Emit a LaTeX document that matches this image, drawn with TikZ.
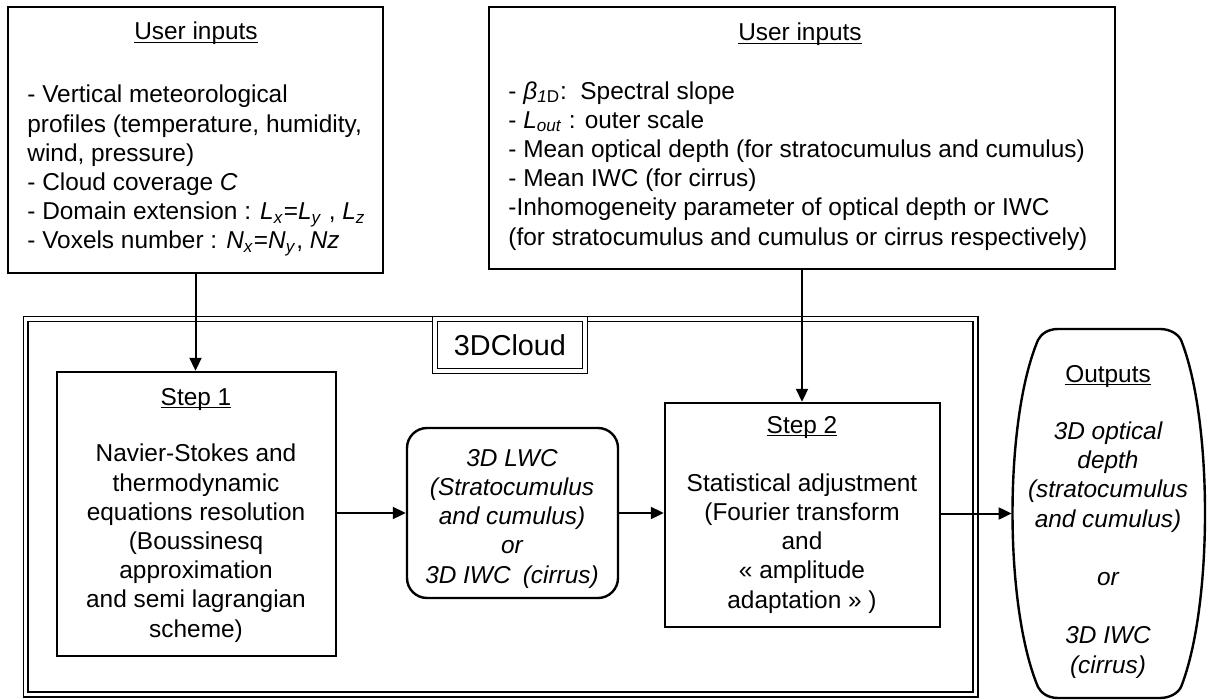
\documentclass[tikz,border=0pt]{standalone}
\usepackage{fontspec}
\setmainfont{Liberation Sans}
\usetikzlibrary{arrows.meta}
\newcommand{\myul}[1]{\setbox0\hbox{#1}\rlap{\rule[-1.7pt]{\wd0}{0.8pt}}\box0}
\newcommand{\ii}[1]{\textit{#1}}
\tikzset{
  box/.style={draw, line width=1.2pt, inner sep=0pt},
  dbl/.style={draw, line width=0.8pt, double, double distance=1.6pt, inner sep=0pt},
  arr/.style={line width=1pt, -{Triangle[length=6.5pt,width=6pt]}},
  txt/.style={inner sep=0pt, font=\fontsize{12.2}{14.6}\selectfont},
  itxt/.style={txt, font=\fontsize{12.2}{14.6}\selectfont\itshape}
}
\begin{document}
\begin{tikzpicture}[x=0.5pt,y=-0.5pt]
\useasboundingbox (0,0) rectangle (1208,700);

% container
\node[dbl, minimum width=474.9pt, minimum height=187.75pt] (outer) at (500.6,506.75) {};
\node[dbl, fill=white, minimum width=75pt, minimum height=26pt, font=\fontsize{14.4}{17}\selectfont] (label) at (510,345) {3DCloud};

% boxes
\node[box, minimum width=187.5pt, minimum height=133pt] (in1) at (195.5,140) {};
\node[box, minimum width=313pt, minimum height=131pt] (in2) at (802,138) {};
\node[box, minimum width=139.5pt, minimum height=142pt] (step1) at (196.5,514) {};
\node[box, rounded corners=10pt, minimum width=105.5pt, minimum height=85pt] (lwc) at (512.5,513) {};
\node[box, minimum width=137.5pt, minimum height=112pt] (step2) at (802.5,515) {};
\node[inner sep=0pt, minimum width=96.5pt, minimum height=184.5pt] (outputs) at (1108.5,513.5) {};
\draw[line width=1.2pt] (1058,329) -- (1160,329)
  .. controls (1170,329) and (1178,334) .. (1181,340)
  .. controls (1213,420) and (1213,606) .. (1181,687)
  .. controls (1178,693) and (1170,698) .. (1160,698)
  -- (1058,698)
  .. controls (1048,698) and (1041,693) .. (1038,687)
  .. controls (1004,606) and (1004,420) .. (1038,340)
  .. controls (1041,334) and (1048,329) .. (1058,329) -- cycle;

% texts (multi-line nodes: base anchor = last line's baseline)
\node[txt, anchor=base] (t1) at (196,40) {\myul{User inputs}};
\node[txt, anchor=base west, align=left] (b1) at (27,249) {- Vertical meteorological\\
profiles (temperature, humidity,\\
wind, pressure)\\
- Cloud coverage \ii{C}\\
- Domain extension : \ii{L}\textsubscript{\ii{x}}=\ii{L}\textsubscript{\ii{y}} , \ii{L}\textsubscript{\ii{z}}\\
- Voxels number : \ii{N}\textsubscript{\ii{x}}=\ii{N}\textsubscript{\ii{y}},\ \ii{Nz}};

\node[txt, anchor=base] (t2) at (800,41) {\myul{User inputs}};
\node[txt, anchor=base west, align=left] (b2) at (508,245) {- \ii{β}\textsubscript{\ii{1}D}:\ \ Spectral slope\\
- \ii{L}\textsubscript{\ii{out}} : outer scale\\
- Mean optical depth (for stratocumulus and cumulus)\\
- Mean IWC (for cirrus)\\
-Inhomogeneity parameter of optical depth or IWC\\
(for stratocumulus and cumulus or cirrus respectively)};

\node[txt, anchor=base] (t3) at (196,405) {\myul{Step 1}};
\node[txt, anchor=base, align=center] (b3) at (196,637) {Navier-Stokes and\\
thermodynamic\\
equations resolution\\
(Boussinesq\\
approximation\\
and semi lagrangian\\
scheme)};

\node[itxt, anchor=base, align=center] (b4) at (512,583) {3D LWC\\
(Stratocumulus\\
and cumulus)\\
or\\
3D IWC\enspace(cirrus)};

\node[txt, anchor=base] (t5) at (802,433) {\myul{Step 2}};
\node[txt, anchor=base, align=center] (b5) at (802,608) {Statistical adjustment\\
(Fourier transform\\
and\\
« amplitude\\
adaptation » )};

\node[txt, anchor=base] (t6) at (1108,382) {\myul{Outputs}};
\node[itxt, anchor=base, align=center] (b6) at (1108,673) {3D optical\\
depth\\
(stratocumulus\\
and cumulus)\\[14.6pt]
or\\[14.6pt]
3D IWC\\
(cirrus)};

% connectors
\draw[arr] (in1.south) -- (in1.south |- step1.north);
\draw[arr] (in2.south) -- (in2.south |- step2.north);
\draw[arr] (lwc.west -| step1.east) -- (lwc.west);
\draw[arr] (lwc.east) -- (lwc.east -| step2.west);
\draw[arr] (step2.east |- outputs.west) -- (outputs.west);
\end{tikzpicture}
\end{document}
